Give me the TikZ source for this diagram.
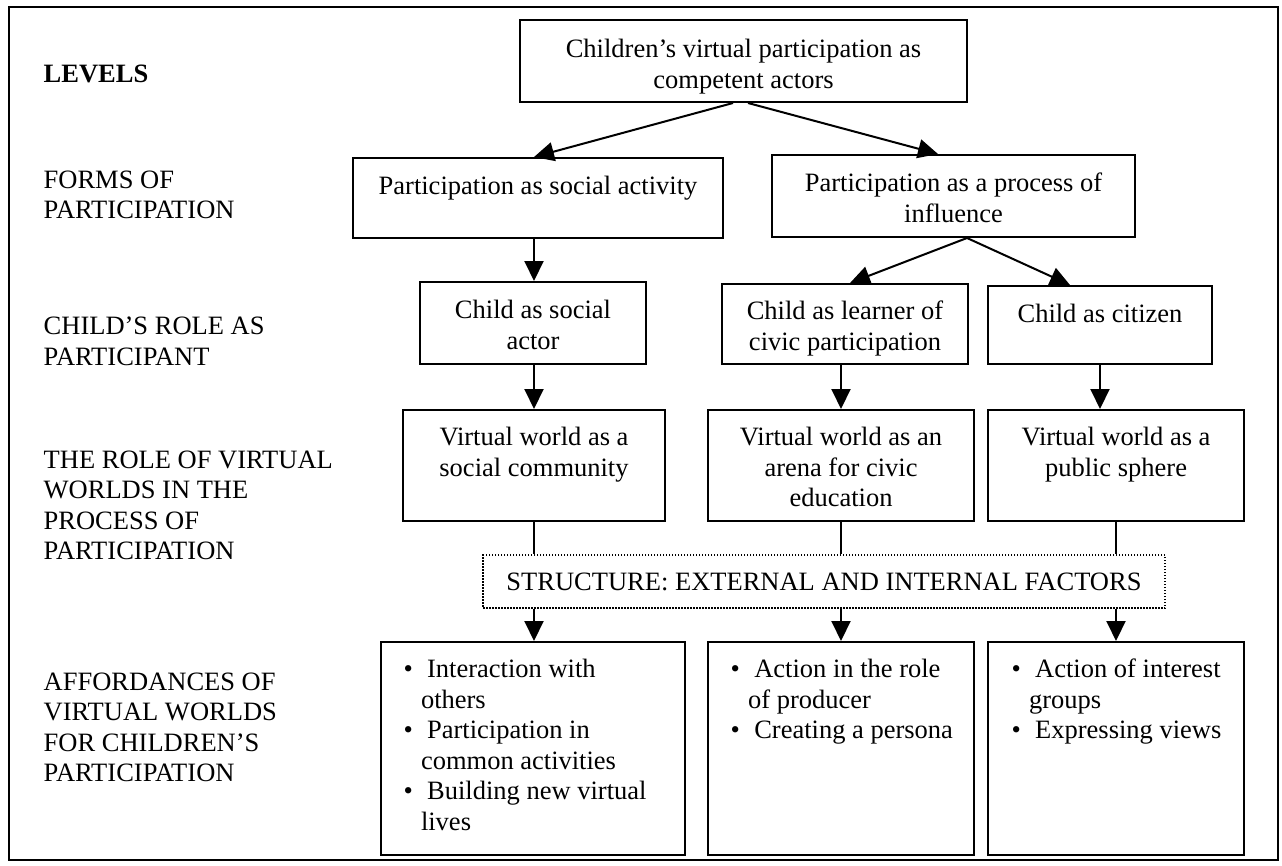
\documentclass[tikz,border=0pt]{standalone}
\usepackage{fontspec}
\setmainfont{Liberation Serif}
\usetikzlibrary{arrows.meta,calc}
\tikzset{
  box/.style={draw, line width=2pt, inner sep=0pt},
  dotbox/.style={draw, line width=2pt, inner sep=0pt, dash pattern=on 1.5pt off 1.5pt},
  txt/.style={anchor=north, align=center, inner sep=0pt},
  lvl/.style={anchor=north west, align=left, inner sep=0pt},
  lst/.style={anchor=north west, align=left, inner sep=0pt},
  arr/.style={line width=2pt, -{Triangle[length=20pt,width=19pt]}},
  conn/.style={line width=2pt}
}
\newcommand{\itm}{\textbullet\hspace{14.4pt}}
\newcommand{\cnt}{\hspace*{17.5pt}}

\begin{document}
\begin{tikzpicture}[x=1pt,y=-1pt,font=\fontsize{26.5}{30.5}\selectfont]
\useasboundingbox (0,0) rectangle (1282,865);
% outer frame
\draw[line width=2pt] (9,7) rectangle (1278,860);

% level labels on the left
\node[lvl, font=\fontsize{26.5}{30.5}\selectfont\bfseries] (lev) at (43.5,64.5) {LEVELS};
\node[lvl] (lforms) at (43.5,170.5) {FORMS OF\\PARTICIPATION};
\node[lvl] (lrole) at (43.5,317) {CHILD’S ROLE AS\\PARTICIPANT};
\node[lvl] (lworld) at (43.5,450.5) {THE ROLE OF VIRTUAL\\WORLDS IN THE\\PROCESS OF\\PARTICIPATION};
\node[lvl] (laff) at (43.5,672.5) {AFFORDANCES OF\\VIRTUAL WORLDS\\FOR CHILDREN’S\\PARTICIPATION};

% boxes
\node[box, minimum width=447pt, minimum height=82pt] (top) at (743.5,61) {};
\node[box, minimum width=370pt, minimum height=80pt] (sact) at (538,198) {};
\node[box, minimum width=363pt, minimum height=82pt] (proc) at (953.5,196) {};
\node[box, minimum width=226pt, minimum height=82pt] (csa) at (533,323) {};
\node[box, minimum width=246pt, minimum height=80pt] (clr) at (845,324) {};
\node[box, minimum width=224pt, minimum height=78pt] (cct) at (1100,325) {};
\node[box, minimum width=262pt, minimum height=111pt] (vsc) at (534,465.5) {};
\node[box, minimum width=266pt, minimum height=111pt] (var) at (841,465.5) {};
\node[box, minimum width=256pt, minimum height=111pt] (vps) at (1116,465.5) {};
\node[dotbox, minimum width=682pt, minimum height=53pt] (struc) at (824,581.5) {};
\node[box, minimum width=304pt, minimum height=213pt] (aff1) at (533,748.5) {};
\node[box, minimum width=266pt, minimum height=213pt] (aff2) at (841,748.5) {};
\node[box, minimum width=256pt, minimum height=213pt] (aff3) at (1116,748.5) {};

% box texts
\node[txt] (top-t) at (743.5,39) {Children’s virtual participation as\\competent actors};
\node[txt] (sact-t) at (538,176) {Participation as social activity};
\node[txt] (proc-t) at (953.5,173) {Participation as a process of\\influence};
\node[txt] (csa-t) at (533,300) {Child as social\\actor};
\node[txt] (clr-t) at (845,301) {Child as learner of\\civic participation};
\node[txt] (cct-t) at (1100,304) {Child as citizen};
\node[txt] (vsc-t) at (534,427) {Virtual world as a\\social community};
\node[txt] (var-t) at (841,427) {Virtual world as an\\arena for civic\\education};
\node[txt] (vps-t) at (1116,427) {Virtual world as a\\public sphere};
\node[txt] (struc-t) at (824,572.5) {STRUCTURE: EXTERNAL AND INTERNAL FACTORS};
\node[lst] (aff1-t) at (403.3,659) {\itm Interaction with\\\cnt others\\\itm Participation in\\\cnt common activities\\\itm Building new virtual\\\cnt lives};
\node[lst] (aff2-t) at (730.4,659) {\itm Action in the role\\\cnt of producer\\\itm Creating a persona};
\node[lst] (aff3-t) at (1011.3,659) {\itm Action of interest\\\cnt groups\\\itm Expressing views};

% connectors
\draw[arr] ($(top.south)+(-10.5,0)$) -- (vsc.north |- sact.north);
\draw[arr] ($(top.south)+(4.5,0)$) -- ($(proc.north)+(-15.5,0)$);
\draw[arr] (vsc.north |- sact.south) -- (vsc.north |- csa.north);
\draw[arr] ($(proc.south)+(13.5,0)$) -- ($(clr.north)+(5,0)$);
\draw[arr] ($(proc.south)+(13.5,0)$) -- ($(cct.north)+(-30,0)$);
\draw[arr] (vsc.north |- csa.south) -- (vsc.north);
\draw[arr] (var.north |- clr.south) -- (var.north);
\draw[arr] (cct.south) -- (cct.south |- vps.north);
\draw[conn] (vsc.south) -- (vsc.south |- struc.north);
\draw[conn] (var.south) -- (var.south |- struc.north);
\draw[conn] (vps.south) -- (vps.south |- struc.north);
\draw[arr] (vsc.south |- struc.south) -- (vsc.south |- aff1.north);
\draw[arr] (var.south |- struc.south) -- (aff2.north);
\draw[arr] (vps.south |- struc.south) -- (aff3.north);
\end{tikzpicture}
\end{document}
